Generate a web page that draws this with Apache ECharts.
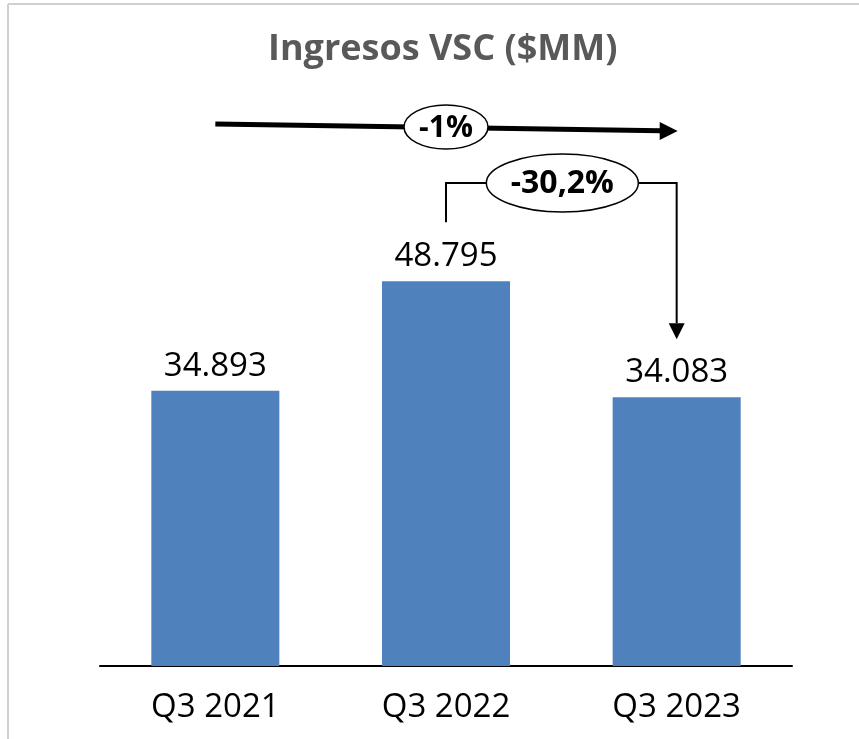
<!DOCTYPE html>
<html>
<head>
<meta charset="utf-8">
<script src="https://cdn.jsdelivr.net/npm/echarts@6/dist/echarts.min.js"></script>
<style>
  html, body { margin: 0; padding: 0; background: #fff; }
  #main { width: 859px; height: 739px; }
</style>
</head>
<body>
<div id="main"></div>
<script>
const categories = ['Q3 2021', 'Q3 2022', 'Q3 2023'];
const ingresos = [34893, 48795, 34083];
const changeTotal = '-1%';
const changeYear = '-30,2%';

const fmt = v => String(v).replace(/\B(?=(\d{3})+(?!\d))/g, '.');

const myChart = echarts.init(document.getElementById('main'));
const option = {
    backgroundColor: '#fff',
    animation: false,
    title: {
        text: 'Ingresos VSC ($MM)',
        left: 263,
        top: 27,
        textStyle: {
            color: '#595959',
            fontFamily: 'Open Sans',
            fontWeight: 'bold',
            fontSize: 36
        }
    },
    grid: { left: 100, right: 67, top: 114, bottom: 73 },
    xAxis: {
        type: 'category',
        data: categories,
        axisLine: { lineStyle: { color: '#000', width: 2 } },
        axisTick: { show: false },
        axisLabel: {
            color: '#000',
            fontFamily: 'Open Sans',
            fontSize: 33,
            margin: 25
        }
    },
    yAxis: {
        type: 'value',
        min: 0,
        max: 70000,
        show: false,
        splitLine: { show: false }
    },
    series: [{
        type: 'bar',
        data: ingresos,
        barWidth: '55.5%',
        itemStyle: { color: '#4F81BD' },
        label: {
            show: true,
            position: 'top',
            distance: 8,
            color: '#000',
            fontFamily: 'Open Sans',
            fontSize: 33,
            formatter: p => fmt(p.value)
        }
    }]
};
myChart.setOption(option);

// annotation arrows, placed from the axis scales
const px = i => myChart.convertToPixel({ gridIndex: 0 }, [i, 0])[0];
const x0 = px(0), x1 = px(1), x2 = px(2);
const top2 = myChart.convertToPixel({ gridIndex: 0 }, [1, ingresos[1]])[1];
const top3 = myChart.convertToPixel({ gridIndex: 0 }, [2, ingresos[2]])[1];

const yA = 124, yB = 131;
const ex1 = x1;
const yBr = 183;
const ex2 = (x1 + x2) / 2;

myChart.setOption({
    graphic: [
        // left border lines
        { type: 'line', shape: { x1: 8, y1: 4, x2: 859, y2: 4 }, style: { stroke: '#d0d0d0', lineWidth: 2 } },
        { type: 'line', shape: { x1: 8, y1: 4, x2: 8, y2: 739 }, style: { stroke: '#d0d0d0', lineWidth: 2 } },
        // overall arrow
        { type: 'line', shape: { x1: x0, y1: yA, x2: x2 - 16, y2: yB - 0.3 }, style: { stroke: '#000', lineWidth: 5 } },
        { type: 'polygon', shape: { points: [[x2 - 17, yB - 9], [x2 + 1, yB], [x2 - 17, yB + 9]] }, style: { fill: '#000' } },
        { type: 'ellipse', shape: { cx: ex1, cy: 127, rx: 42, ry: 22 }, style: { fill: '#fff', stroke: '#000', lineWidth: 1.5 } },
        { type: 'text', x: ex1, y: 128, style: { text: changeTotal, align: 'center', verticalAlign: 'middle', fontFamily: 'Open Sans', fontWeight: 'bold', fontSize: 30, fill: '#000' } },
        // year over year bracket
        { type: 'polyline', shape: { points: [[x1, top2 - 59], [x1, yBr], [x2, yBr], [x2, top3 - 74]] }, style: { stroke: '#000', lineWidth: 2, fill: null } },
        { type: 'polygon', shape: { points: [[x2 - 8, top3 - 74], [x2 + 8, top3 - 74], [x2, top3 - 58]] }, style: { fill: '#000' } },
        { type: 'ellipse', shape: { cx: ex2 + 1, cy: yBr, rx: 76, ry: 29 }, style: { fill: '#fff', stroke: '#000', lineWidth: 1.5 } },
        { type: 'text', x: ex2 + 1, y: yBr + 1, style: { text: changeYear, align: 'center', verticalAlign: 'middle', fontFamily: 'Open Sans', fontWeight: 'bold', fontSize: 32, fill: '#000' } }
    ]
});
</script>
</body>
</html>
